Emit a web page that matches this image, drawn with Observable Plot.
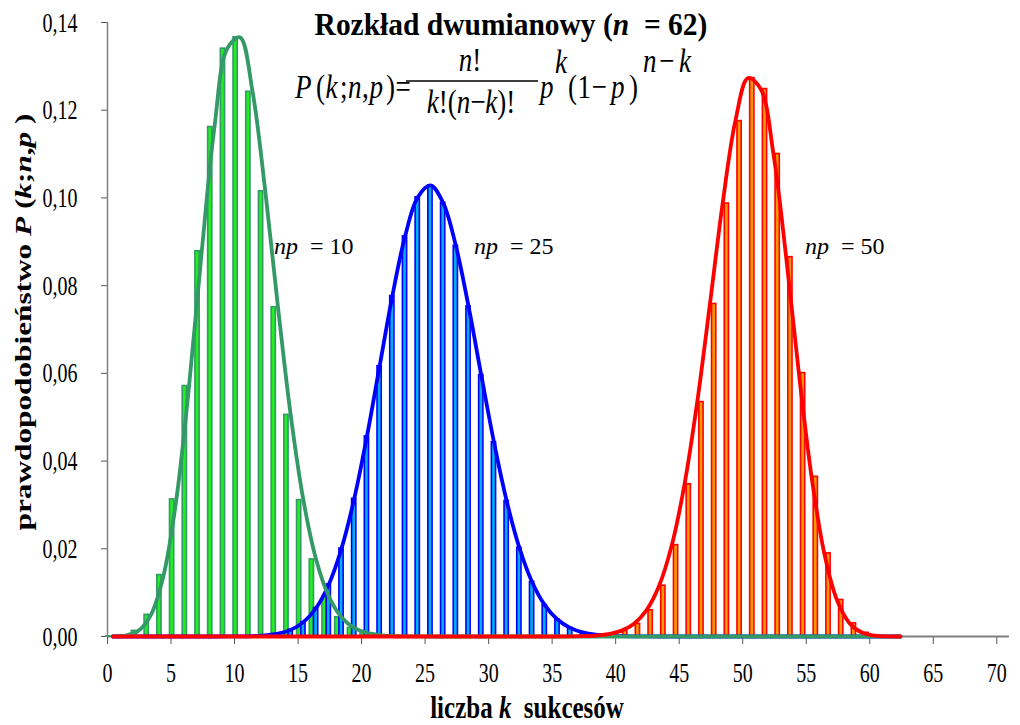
<!DOCTYPE html>
<html><head><meta charset="utf-8">
<script src="https://cdn.jsdelivr.net/npm/d3@7"></script>
<script src="https://cdn.jsdelivr.net/npm/@observablehq/plot@0.6"></script>
<style>
html,body{margin:0;padding:0;background:#fff;}
#chart{width:1020px;height:725px;overflow:hidden;}
svg text{white-space:pre;}
</style></head><body><div id="chart"></div>
<script>
// ---- data (binomial, n = 62) ----
const kValues = [0,1,2,3,4,5,6,7,8,9,10,11,12,13,14,15,16,17,18,19,20,21,22,23,24,25,26,27,28,29,30,31,32,33,34,35,36,37,38,39,40,41,42,43,44,45,46,47,48,49,50,51,52,53,54,55,56,57,58,59,60,61,62];
const np10 = [0.00002,0.00022,0.00128,0.00494,0.01401,0.03126,0.05711,0.08786,0.11617,0.13404,
  0.13662,0.12420,0.10151,0.07508,0.05053,0.03110,0.01757,0.00914,0.00439,0.00196,
  0.00081,0.00031,0.00011,0.00004,0.00001,0,0,0,0,0,
  0,0,0,0,0,0,0,0,0,0,0,0,0,0,0,0,0,0,0,0,0,0,0,0,0,0,0,0,0,0,0,0,0];
const np25 = [0,0,0,0,0,0,0,0,0,0.00001,
  0.00003,0.00009,0.00025,0.00064,0.00151,0.00327,0.00650,0.01188,0.02007,0.03140,
  0.04561,0.06164,0.07762,0.09121,0.10014,0.10285,0.09889,0.08909,0.07525,0.05961,
  0.04430,0.03090,0.02023,0.01243,0.00716,0.00387,0.00196,0.00093,0.00041,0.00017,
  0.00007,0.00002,0.00001,0,0,0,0,0,0,0,0,0,0,0,0,0,0,0,0,0,0,0,0];
const np50 = [0,0,0,0,0,0,0,0,0,0,0,0,0,0,0,0,0,0,0,0,0,0,0,0,0,0,0,0,0,0,0,0,0,0,0,0,
  0.00003,0.00008,0.00021,0.00054,0.00128,0.00287,0.00597,0.01158,0.02083,0.03471,
  0.05345,0.07582,0.09872,0.11752,0.12732,0.12482,0.11002,0.08649,0.06006,0.03640,
  0.01896,0.00832,0.00299,0.00084,0.00018,0.00002,0];
const seriesNames = ["np = 10", "np = 25", "np = 50"];
const seriesLabels = ["10", "25", "50"];
const xTicks = [0,5,10,15,20,25,30,35,40,45,50,55,60,65,70];
const yTicks = [0,0.02,0.04,0.06,0.08,0.10,0.12,0.14];
const yTickLabels = ["0,00","0,02","0,04","0,06","0,08","0,10","0,12","0,14"];

// ---- styles ----
const styles = [
  {values: np10, fill: "#22EE22", stroke: "#339966", line: "#339966", slot: 0},
  {values: np25, fill: "#00B0F0", stroke: "#0000FF", line: "#0000FF", slot: 1},
  {values: np50, fill: "#FF9900", stroke: "#FF0000", line: "#FF0000", slot: 2}
];
const slotW = 1/3;          // one third of a category
const clusterShift = 0.42;  // centre of the cluster relative to k

const tables = styles.map((s, i) => kValues.map((k, j) => ({k, p: s.values[j], series: seriesNames[i]})));

const barMarks = styles.map((s, i) => Plot.rect(tables[i].filter(d => d.p > 0), {
  x1: d => d.k + clusterShift + (s.slot - 1) * slotW - slotW / 2,
  x2: d => d.k + clusterShift + (s.slot - 1) * slotW + slotW / 2,
  y1: 0, y2: "p", fill: s.fill, stroke: s.stroke, strokeWidth: 1.6
}));
const lineOrder = [1, 0, 2];
const lineMarks = lineOrder.map(i => Plot.line(tables[i], {
  x: d => d.k + clusterShift, y: "p", stroke: styles[i].line, strokeWidth: 3.8, curve: "catmull-rom"
}));

const plot = Plot.plot({
  width: 1020, height: 725,
  marginLeft: 107, marginRight: 11, marginTop: 22, marginBottom: 89,
  style: {fontFamily: "Liberation Serif, Times New Roman, serif", fontSize: "20px", color: "#000", background: "#fff", overflow: "visible"},
  x: {domain: [0, 71], ticks: xTicks, tickFormat: d => String(d), tickSize: 8, tickPadding: 21, label: null},
  y: {domain: [0, 0.14], ticks: yTicks, tickFormat: d => yTickLabels[yTicks.findIndex(t => Math.abs(t - d) < 1e-9)], tickSize: 6, tickPadding: 24, label: null},
  marks: [
    Plot.ruleY([0], {stroke: "#808080", strokeWidth: 2}),
    ...barMarks,
    ...lineMarks,
    Plot.ruleX([0], {stroke: "#808080", strokeWidth: 1.5})
  ]
});
document.getElementById("chart").appendChild(plot);
const svg = plot.tagName.toLowerCase() === "svg" ? plot : plot.querySelector("svg");

// tick lines colour
d3.select(svg).selectAll("g[aria-label^='x-axis'] line, g[aria-label^='y-axis'] line, g[aria-label^='x-axis'] path, g[aria-label^='y-axis'] path")
  .attr("stroke", "#555");

// vertical stretch of axis tick labels (as in the picture)
function stretchText(el, s) {
  const bb = el.getBBox();
  const ctm = el.getCTM();
  const pt = svg.createSVGPoint();
  pt.x = bb.x + bb.width / 2; pt.y = bb.y + bb.height / 2;
  const c = pt.matrixTransform(ctm);
  const S = svg.createSVGMatrix().translate(0, c.y).scaleNonUniform(1, s).translate(0, -c.y);
  const P = el.parentNode.getCTM();
  const M = P.inverse().multiply(S).multiply(ctm);
  el.setAttribute("transform", `matrix(${M.a},${M.b},${M.c},${M.d},${M.e},${M.f})`);
}
d3.select(svg).selectAll("g[aria-label^='x-axis'] text, g[aria-label^='y-axis'] text").each(function() { stretchText(this, 1.38); });

// ---- annotations ----
const ann = d3.select(svg).append("g").attr("font-family", "Liberation Serif, Times New Roman, serif").attr("fill", "#000");

function richText(parent, parts, opts) {
  const t = parent.append("text")
    .attr("transform", `translate(${opts.x},${opts.y}) scale(1,${opts.sy || 1})${opts.rotate ? ` rotate(${opts.rotate})` : ""}`)
    .attr("font-size", opts.size).attr("text-anchor", opts.anchor || "start")
    .attr("font-weight", opts.weight || "normal");
  parts.forEach(p => {
    const ts = t.append("tspan").text(p.t);
    if (p.i) ts.attr("font-style", "italic");
    if (p.x !== undefined) ts.attr("x", p.x);
    if (p.dy !== undefined) ts.attr("dy", p.dy);
    if (p.size) ts.attr("font-size", p.size);
  });
  return t;
}

// title
richText(ann, [{t: "Rozkład dwumianowy ("}, {t: "n", i: true}, {t: "  = 62)"}],
  {x: 511, y: 35, size: 29.5, anchor: "middle", weight: "bold", sy: 1.08});

// formula P(k;n,p) = n!/(k!(n-k)!) p^k (1-p)^(n-k)
const fx = 295, fy = 98, fs = 27, fsy = 1.25;
richText(ann, [
  {t: "P", i: true, x: 0}, {t: "(", x: 21}, {t: "k", i: true, x: 30.5}, {t: ";", x: 45},
  {t: "n", i: true, x: 53}, {t: ",", x: 67}, {t: "p", i: true, x: 74.5}, {t: ")", x: 91}, {t: "=", x: 100.5}
], {x: fx, y: fy, size: fs, sy: fsy});
richText(ann, [{t: "n", i: true}, {t: "!"}], {x: 470, y: 71, size: fs, anchor: "middle", sy: fsy});
ann.append("line").attr("x1", 406).attr("x2", 538).attr("y1", 81).attr("y2", 81).attr("stroke", "#000").attr("stroke-width", 1.4);
richText(ann, [{t: "k", i: true}, {t: "!("}, {t: "n", i: true}, {t: "−"}, {t: "k", i: true}, {t: ")!"}], {x: 471, y: 113, size: fs, anchor: "middle", sy: fsy});
richText(ann, [
  {t: "p", i: true, x: 0},
  {t: "k", i: true, x: 15, dy: -20},
  {t: "(", x: 28, dy: 20}, {t: "1", x: 37.5}, {t: "−", x: 51.5}, {t: "p", i: true, x: 71}, {t: ")", x: 89},
  {t: "n", i: true, x: 103, dy: -21}, {t: "−", x: 119}, {t: "k", i: true, x: 139}
], {x: 540, y: fy, size: fs, sy: fsy});

// np labels
const npPos = [[274, 254], [474, 254], [805, 254]];
seriesLabels.forEach((lab, i) => {
  richText(ann, [{t: "np", i: true}, {t: "  = " + lab}], {x: npPos[i][0], y: npPos[i][1], size: 24});
});

// axis titles
richText(ann, [{t: "prawdopodobieństwo "}, {t: "P", i: true}, {t: " ("}, {t: "k", i: true}, {t: ";"}, {t: "n", i: true}, {t: ","}, {t: "p", i: true}, {t: " )"}],
  {x: 31, y: 322, size: 23, anchor: "middle", weight: "bold", sy: 1.36, rotate: -90});
richText(ann, [{t: "liczba "}, {t: "k", i: true}, {t: "  sukcesów"}],
  {x: 527, y: 718, size: 25, anchor: "middle", weight: "bold", sy: 1.25});
</script></body></html>
